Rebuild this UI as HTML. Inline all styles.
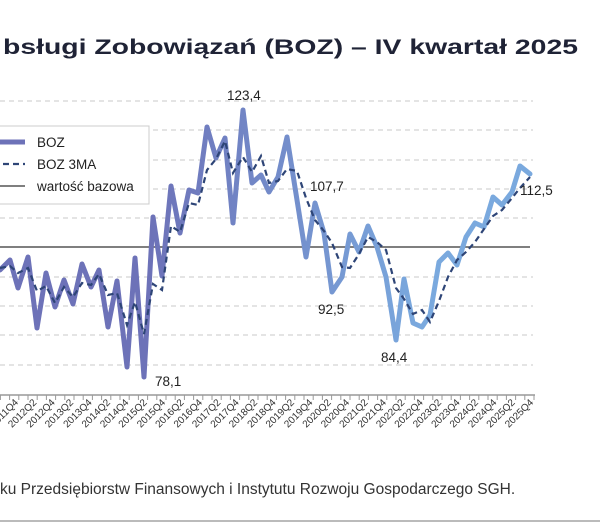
<!DOCTYPE html>
<html><head><meta charset="utf-8"><style>
html,body{margin:0;padding:0;background:#fff;}
svg{display:block;font-family:"Liberation Sans",sans-serif;}
</style></head><body>
<svg width="600" height="525" viewBox="0 0 600 525" xmlns="http://www.w3.org/2000/svg">
<defs>
<linearGradient id="g" gradientUnits="userSpaceOnUse" x1="150" y1="0" x2="420" y2="0">
<stop offset="0" stop-color="#6d72b8"/><stop offset="1" stop-color="#7aa9de"/>
</linearGradient>
</defs>
<text x="3" y="54" font-size="21" font-weight="600" fill="#1f2336" textLength="575" lengthAdjust="spacingAndGlyphs">bsługi Zobowiązań (BOZ) – IV kwartał 2025</text>
<g stroke="#c8c8c8" stroke-width="1" stroke-dasharray="5,4">
<line x1="0" x2="533" y1="101" y2="101"/><line x1="0" x2="533" y1="130" y2="130"/>
<line x1="0" x2="533" y1="160" y2="160"/><line x1="0" x2="533" y1="189" y2="189"/>
<line x1="0" x2="533" y1="218" y2="218"/><line x1="0" x2="533" y1="277" y2="277"/>
<line x1="0" x2="533" y1="306" y2="306"/><line x1="0" x2="533" y1="335" y2="335"/>
<line x1="0" x2="533" y1="365" y2="365"/>
</g>
<line x1="0" x2="530" y1="247" y2="247" stroke="#555" stroke-width="1.5"/>
<polyline fill="none" stroke="url(#g)" stroke-width="5" stroke-linejoin="round" stroke-linecap="round" points="0,270 10,260 18,288 28,257 37,328 46,273 55,307 64,280 73,304 82,264 91,287 99,270 108,327 117,281 127,367 135,258 144,377 153,217 162,276 171,186 180,233 189,190 198,193 207,127 216,158 225,138 233,223 243,110 252,183 261,175 269,192 278,177 287,137 297,200 306,257 315,203 324,233 332,292 342,277 350,234 359,252 368,226 377,247 386,277 396,340 404,279 413,323 422,327 430,315 439,262 448,253 457,265 466,237 475,223 484,227 493,197 502,205 512,192 520,166 530,174"/>
<polyline fill="none" stroke="#2e4577" stroke-width="2.2" stroke-dasharray="6,4" points="0,268 10,266 18,273 28,268 37,291 46,286 55,303 64,287 73,297 82,283 91,285 99,274 108,295 117,293 127,325 135,302 144,334 153,284 162,290 171,226 180,232 189,203 198,205 207,170 216,159 225,141 233,173 243,157 252,172 261,156 269,183 278,181 287,169 297,171 306,198 315,220 324,231 332,243 342,267 350,268 359,254 368,237 377,242 386,250 396,288 404,299 413,314 422,310 430,322 439,301 448,277 457,260 466,252 475,242 484,229 493,216 502,210 512,198 520,188 530,177"/>
<g font-size="13.5" fill="#222">
<text x="227" y="100">123,4</text>
<text x="310" y="191">107,7</text>
<text x="318" y="314">92,5</text>
<text x="381" y="362">84,4</text>
<text x="155" y="386">78,1</text>
<text x="520" y="195">112,5</text>
</g>
<rect x="-5" y="126" width="154" height="78" fill="#fff" stroke="#ccc" stroke-width="1"/>
<line x1="0" x2="25" y1="142" y2="142" stroke="#6d72b8" stroke-width="5"/>
<line x1="3" x2="25" y1="164" y2="164" stroke="#2e4577" stroke-width="2.2" stroke-dasharray="6,4"/>
<line x1="0" x2="25" y1="186" y2="186" stroke="#555" stroke-width="1.5"/>
<g font-size="13.5" fill="#222">
<text x="37" y="147">BOZ</text>
<text x="37" y="169">BOZ 3MA</text>
<text x="37" y="191">wartość bazowa</text>
</g>
<line x1="0" x2="535" y1="395" y2="395" stroke="#999" stroke-width="1.5"/>
<g stroke="#999" stroke-width="1" id="ticks"></g>
<g font-size="10" fill="#333" id="labs"></g>
<text x="0" y="494" font-size="15.5" fill="#333">ku Przedsiębiorstw Finansowych i Instytutu Rozwoju Gospodarczego SGH.</text>
<line x1="0" x2="600" y1="521" y2="521" stroke="#bbb" stroke-width="2"/>
<script>
var t=document.getElementById('ticks'),l=document.getElementById('labs'),ns='http://www.w3.org/2000/svg';
for(var i=0;i<62;i++){var x=534-i*9.2;if(x<0)break;var e=document.createElementNS(ns,'line');e.setAttribute('x1',x);e.setAttribute('x2',x);e.setAttribute('y1',395);e.setAttribute('y2',400);t.appendChild(e);}
for(var k=0;k<30;k++){var q=56-2*k;var yr,qq=(q%4)==0?'Q4':'Q2';if(q%4==0){yr=2011+q/4;}else{yr=2011+Math.floor(q/4)+1;}
var x=534-k*18.4;if(x<-10)break;var tx=document.createElementNS(ns,'text');tx.setAttribute('x',x);tx.setAttribute('y',403);tx.setAttribute('text-anchor','end');tx.setAttribute('transform','rotate(-45 '+x+' 403)');tx.textContent=yr+qq;l.appendChild(tx);}
</script>
</svg>
</body></html>
